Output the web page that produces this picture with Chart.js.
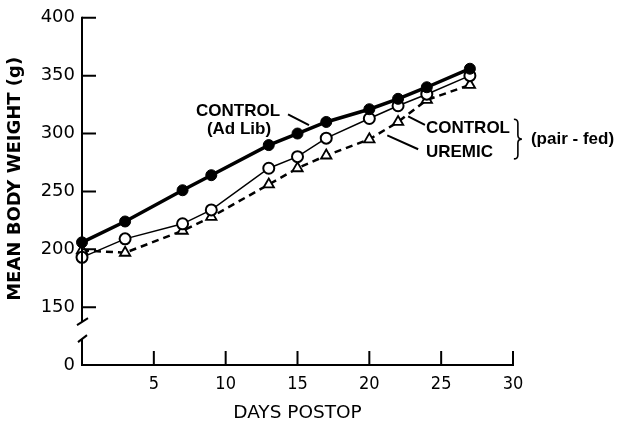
<!DOCTYPE html>
<html>
<head>
<meta charset="utf-8">
<script src="https://cdn.jsdelivr.net/npm/chart.js@4"></script>
<style>
  html, body { margin: 0; padding: 0; background: #fff; }
</style>
</head>
<body>
<canvas id="peso" width="617" height="425"></canvas>
<script>
// dias postoperatorios y peso medio (g)
const dias = [0, 3, 7, 9, 13, 15, 17, 20, 22, 24, 27];
const controlAdLib = [206, 224, 251, 264, 290, 300, 310, 321, 330, 340, 356];
const controlPairFed = [193, 209, 222, 234, 270, 280, 296, 313, 324, 334, 350];
const uremic = [199, 197, 216, 228, 256, 270, 281, 295, 310, 329, 342];
const ticksY = [150, 200, 250, 300, 350, 400];
const ticksX = [5, 10, 15, 20, 25, 30];
const CERO = 100; // valor del eje donde se pinta el "0" despues del corte

const fuente = 'DejaVu Sans';
const fuenteNotas = '"Liberation Sans", Arial, sans-serif';
const fuenteEstrecha = '"DejaVu Sans Condensed", "Liberation Sans Narrow", "DejaVu Sans"';

function puntos(valores) {
    return dias.map((d, i) => ({ x: d, y: valores[i] }));
}

const ejesYNotas = {
    id: 'ejesYNotas',
    afterDraw(chart) {
        const { ctx, chartArea, scales: { x, y } } = chart;
        const x0 = chartArea.left;
        const base = chartArea.bottom;
        const y150 = y.getPixelForValue(150);
        ctx.save();
        ctx.strokeStyle = '#000';
        ctx.fillStyle = '#000';
        ctx.lineWidth = 2;
        ctx.lineCap = 'butt';

        // eje Y con corte
        ctx.beginPath();
        ctx.moveTo(x0, y.getPixelForValue(400) - 1);
        ctx.lineTo(x0, y150 + 14);
        ctx.moveTo(x0 - 5, y150 + 18);
        ctx.lineTo(x0 + 6, y150 + 11);
        ctx.moveTo(x0 - 4, y150 + 35);
        ctx.lineTo(x0 + 5, y150 + 28);
        ctx.moveTo(x0, y150 + 32);
        ctx.lineTo(x0, base + 1);
        ctx.stroke();

        // marcas Y hacia dentro
        ctx.beginPath();
        ticksY.forEach(v => {
            const py = y.getPixelForValue(v);
            ctx.moveTo(x0, py);
            ctx.lineTo(x0 + 14, py);
        });
        // eje X y marcas hacia arriba
        ctx.moveTo(x0 - 1, base);
        ctx.lineTo(x.getPixelForValue(30) + 1, base);
        ticksX.forEach(v => {
            const px = x.getPixelForValue(v);
            ctx.moveTo(px, base);
            ctx.lineTo(px, base - 14);
        });
        ctx.stroke();

        // titulo eje Y
        ctx.save();
        ctx.translate(15, chartArea.top + 161);
        ctx.rotate(-Math.PI / 2);
        ctx.font = 'bold 18px ' + fuente;
        ctx.textAlign = 'center';
        ctx.textBaseline = 'middle';
        ctx.fillText('MEAN BODY WEIGHT (g)', 0, 0);
        ctx.restore();

        // notas
        const px = d => x.getPixelForValue(d);
        const py = v => y.getPixelForValue(v);
        ctx.font = 'bold 17px ' + fuenteNotas;
        ctx.textBaseline = 'middle';
        ctx.textAlign = 'center';
        ctx.fillText('CONTROL', px(10.86), py(319));
        ctx.fillText('(Ad Lib)', px(10.93), py(303.8));
        ctx.textAlign = 'left';
        ctx.fillText('CONTROL', px(23.94), py(304.6));
        ctx.fillText('UREMIC', px(23.94), py(284));
        ctx.fillText('(pair - fed)', px(31.25), py(295.2));

        ctx.lineWidth = 2;
        ctx.beginPath();
        ctx.moveTo(px(14.34), py(316.6));
        ctx.lineTo(px(15.8), py(307.2));
        ctx.moveTo(px(22.7), py(314.9));
        ctx.lineTo(px(23.87), py(307.4));
        ctx.moveTo(px(21.25), py(298.4));
        ctx.lineTo(px(23.4), py(286.4));
        ctx.stroke();

        // llave
        const bx = px(30.34);
        const top = py(312.3);
        const bot = py(278.1);
        const mid = (top + bot) / 2;
        ctx.lineWidth = 1.6;
        ctx.beginPath();
        ctx.moveTo(bx - 4, top);
        ctx.quadraticCurveTo(bx, top, bx, top + 4);
        ctx.lineTo(bx, mid - 4);
        ctx.quadraticCurveTo(bx, mid, bx + 4, mid);
        ctx.quadraticCurveTo(bx, mid, bx, mid + 4);
        ctx.lineTo(bx, bot - 4);
        ctx.quadraticCurveTo(bx, bot, bx - 4, bot);
        ctx.stroke();
        ctx.restore();
    }
};

const ctx = document.getElementById('peso').getContext('2d');
const grafico = new Chart(ctx, {
    type: 'line',
    data: {
        datasets: [
            {
                label: 'UREMIC',
                data: puntos(uremic),
                borderColor: '#000',
                borderWidth: 2.5,
                borderDash: [7, 5],
                pointStyle: 'triangle',
                pointRadius: 6,
                pointBorderWidth: 1.8,
                pointBorderColor: '#000',
                pointBackgroundColor: '#fff',
                tension: 0,
                clip: false,
                order: 3
            },
            {
                label: 'CONTROL (pair-fed)',
                data: puntos(controlPairFed),
                borderColor: '#000',
                borderWidth: 1.5,
                pointStyle: 'circle',
                pointRadius: 5.5,
                pointBorderWidth: 2,
                pointBorderColor: '#000',
                pointBackgroundColor: '#fff',
                tension: 0,
                clip: false,
                order: 2
            },
            {
                label: 'CONTROL (Ad Lib)',
                data: puntos(controlAdLib),
                borderColor: '#000',
                borderWidth: 3.5,
                pointStyle: 'circle',
                pointRadius: 5.5,
                pointBorderWidth: 1,
                pointBorderColor: '#000',
                pointBackgroundColor: '#000',
                tension: 0,
                clip: false,
                order: 1
            }
        ]
    },
    options: {
        responsive: false,
        animation: { duration: 0 },
        layout: { padding: { top: 15, right: 104, bottom: 0, left: 0 } },
        plugins: {
            legend: { display: false },
            tooltip: { enabled: false }
        },
        scales: {
            x: {
                type: 'linear',
                min: 0,
                max: 30,
                afterBuildTicks: s => { s.ticks = ticksX.map(v => ({ value: v })); },
                afterFit: s => { s.height = 60; },
                grid: { display: false, drawTicks: false },
                border: { display: false },
                ticks: {
                    color: '#000',
                    padding: 9,
                    maxRotation: 0,
                    font: { family: fuenteEstrecha, size: 18 }
                },
                title: {
                    display: true,
                    text: 'DAYS POSTOP',
                    color: '#000',
                    font: { family: fuente, size: 18.5 },
                    padding: { top: 0, bottom: 1 }
                }
            },
            y: {
                type: 'linear',
                min: CERO,
                max: 400,
                afterBuildTicks: s => { s.ticks = [CERO].concat(ticksY).map(v => ({ value: v })); },
                afterFit: s => { s.width = 82; },
                grid: { display: false, drawTicks: false },
                border: { display: false },
                ticks: {
                    color: '#000',
                    padding: 7,
                    font: { family: fuente, size: 18 },
                    callback: v => v === CERO ? '0' : String(v)
                }
            }
        }
    },
    plugins: [ejesYNotas]
});
</script>
</body>
</html>
